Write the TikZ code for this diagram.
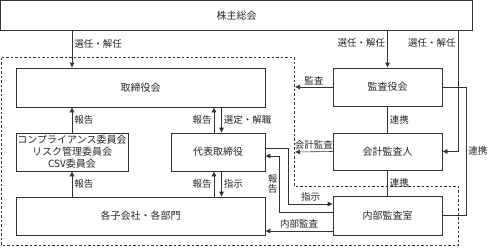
\documentclass[tikz,border=0pt]{standalone}
\usepackage{fontspec}
\setmainfont{Noto Sans CJK JP}
\usetikzlibrary{arrows.meta}

\begin{document}
\begin{tikzpicture}[
  x=1pt, y=-1pt,
  box/.style={draw=black!80, line width=0.6pt, align=center, inner xsep=0.5pt,
    inner ysep=1pt, font=\fontsize{10}{12}\selectfont, text=black!85},
  lbl/.style={font=\fontsize{9.5}{10}\selectfont, text=black!85, inner sep=2pt},
  arr/.style={-{Latex[length=5pt,width=5pt]}, line width=0.6pt, draw=black!80},
  conn/.style={line width=0.6pt, draw=black!80},
  area/.style={dash pattern=on 2.5pt off 2pt, line width=0.7pt, draw=black!80}
]
\useasboundingbox (0,0) rectangle (489,247);
\draw[area] (1.5,57) -- (294,57) -- (294,186) -- (458,186) -- (458,245.5) -- (1.5,245.5) -- cycle;

\node[box, minimum width=472pt, minimum height=29.5pt] (soukai) at (236.5,15.25) {株主総会};
\node[box, minimum width=249pt, minimum height=39pt] (torikai) at (140.5,87.5) {取締役会};
\node[box, minimum width=109pt, minimum height=38pt] (kansakai) at (387.5,87) {監査役会};
\node[box, minimum width=112pt, minimum height=38pt] (iinkai) at (72,152) {コンプライアンス委員会\\リスク管理委員会\\CSV委員会};
\node[box, minimum width=94pt, minimum height=38pt] (daihyo) at (218,152) {代表取締役};
\node[box, minimum width=109pt, minimum height=37pt] (kaikei) at (387.5,151.5) {会計監査人};
\node[box, minimum width=249pt, minimum height=38pt] (kogaisha) at (140.5,216) {各子会社・各部門};
\node[box, minimum width=109pt, minimum height=39pt] (naibu) at (387.5,215.5) {内部監査室};

\coordinate (rsen) at (458,0);
\coordinate (rren) at (466,0);
\coordinate (kansaend) at (295,87);
\coordinate (kaikeiend) at (295,152);
\coordinate (d1) at ([xshift=-4pt]daihyo.north);
\coordinate (d2) at ([xshift=3.5pt]daihyo.north);
\coordinate (d3) at ([xshift=-4pt]daihyo.south);
\coordinate (d4) at ([xshift=3.5pt]daihyo.south);
\coordinate (n3) at ([yshift=-15.5pt]naibu.west);

% left side
\draw[arr] (soukai.south -| iinkai.north) -- (torikai.north -| iinkai.north) node[lbl, right, pos=0.36] {選任・解任};
\draw[arr] (iinkai.north) -- (iinkai.north |- torikai.south) node[lbl, right, midway] {報告};
\draw[arr] (kogaisha.north -| iinkai.south) -- (iinkai.south) node[lbl, right, midway] {報告};
\draw[arr] (d1) -- (d1 |- torikai.south) node[lbl, left, midway] {報告};
\draw[arr] (d2 |- torikai.south) -- (d2) node[lbl, right, midway] {選定・解職};
\draw[arr] (d3 |- kogaisha.north) -- (d3) node[lbl, left, midway] {報告};
\draw[arr] (d4) -- (d4 |- kogaisha.north) node[lbl, right, midway] {指示};

% right side
\draw[arr] (soukai.south -| kansakai.north) -- (kansakai.north) node[lbl, left, pos=0.35] {選任・解任};
\draw[arr] (soukai.south -| rsen) |- (kaikei.east) node[lbl, left, pos=0.053] {選任・解任};
\draw[conn] (kansakai.east) -- (kansakai.east -| rren) -- (naibu.east -| rren) node[lbl, right, midway] {連携} -- (naibu.east);
\draw[arr] (kansakai.west) -- (kansaend) node[lbl, above, midway] {監査};
\draw[arr] (kaikei.west) -- (kaikeiend) node[lbl, above, midway] {会計監査};
\draw[conn] (kansakai.south) -- (kaikei.north) node[lbl, right, midway] {連携};
\draw[conn] (kaikei.south) -- (naibu.north) node[lbl, right, midway] {連携};
\draw[arr] ([yshift=4pt]daihyo.east) -- ++(23,0) |- ([yshift=11.5pt]naibu.west) node[lbl, above, pos=0.75] {指示};
\draw[arr] ([yshift=3.5pt]naibu.west) -- ++(-53,0) |- ([yshift=-4pt]daihyo.east) node[lbl, left, pos=0.25, align=center] {報\\告};
\draw[arr] (n3) -- (n3 -| kogaisha.east) node[lbl, above, midway] {内部監査};
\end{tikzpicture}
\end{document}
